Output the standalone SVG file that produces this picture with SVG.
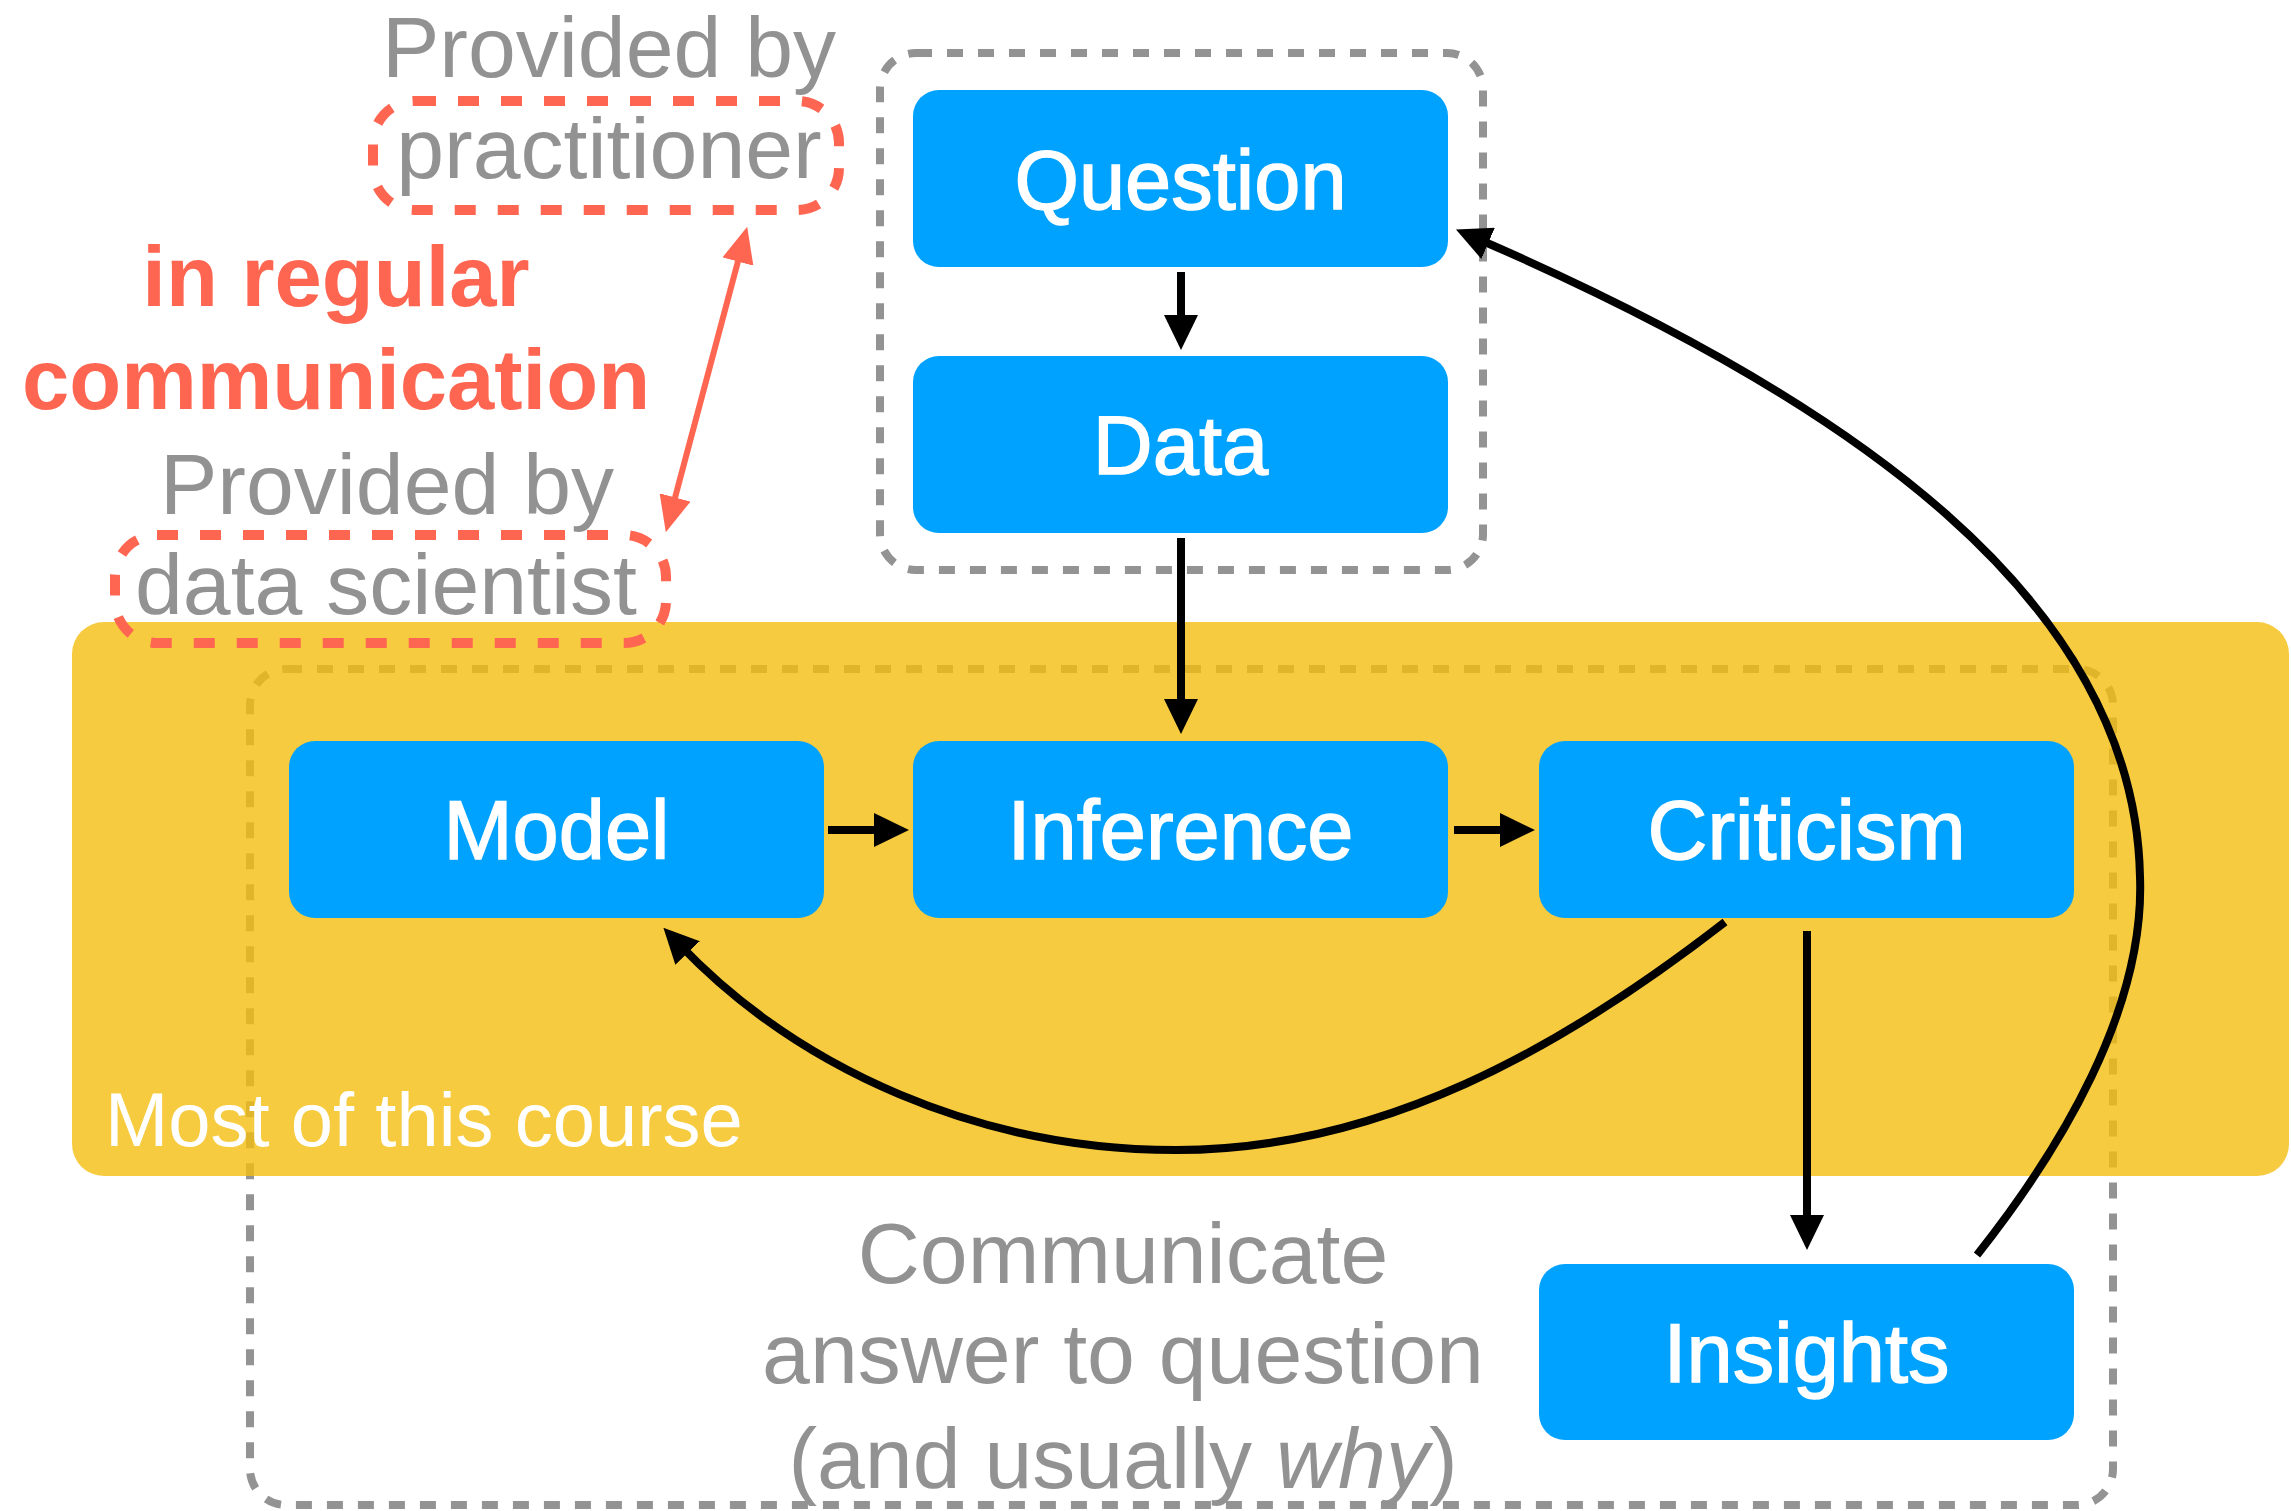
<svg xmlns="http://www.w3.org/2000/svg" width="2291" height="1511" viewBox="0 0 2291 1511">
  <style>
    .node rect { fill: #00A2FF; }
    .node text { font-family: "Liberation Sans", Arial, sans-serif; font-size: 83px; fill: #FFFFFF; stroke: #FFFFFF; stroke-width: 1.4; text-anchor: middle; }
    .grey { font-family: "Liberation Sans", Arial, sans-serif; font-size: 86px; fill: #929292; text-anchor: middle; }
    .red { font-family: "Liberation Sans", Arial, sans-serif; font-size: 85px; font-weight: bold; fill: #FF6651; text-anchor: middle; }
    .frame { fill: none; stroke: #939393; stroke-width: 8; stroke-dasharray: 16 15; }
    .redframe { fill: none; stroke: #FF6651; stroke-width: 10; stroke-dasharray: 21 22; }
    .edge { fill: none; stroke: #000000; stroke-width: 8; }
    .redge { fill: none; stroke: #FF6651; stroke-width: 6; }
  </style>
  <defs>
    <marker id="head" viewBox="0 0 35 34" refX="11" refY="17" markerWidth="35" markerHeight="34" markerUnits="userSpaceOnUse" orient="auto">
      <path d="M0,0 L35,17 L0,34 Z" fill="#000000"/>
    </marker>
    <marker id="redhead" viewBox="0 0 36 32" refX="12" refY="16" markerWidth="36" markerHeight="32" markerUnits="userSpaceOnUse" orient="auto-start-reverse">
      <path d="M0,0 L36,16 L0,32 Z" fill="#FF6651"/>
    </marker>
  </defs>

  <!-- outer dashed frame: model / inference / criticism / insights -->
  <rect class="frame" x="250" y="669" width="1863" height="836" rx="36"/>

  <!-- course band, slightly see-through so the frame shows under it -->
  <g id="course">
    <rect x="72" y="622" width="2217" height="554" rx="32" fill="#F5BE10" fill-opacity="0.8"/>
    <text x="105" y="1146" font-family="Liberation Sans, Arial, sans-serif" font-size="76" fill="#FFFFFF">Most of this course</text>
  </g>

  <!-- dashed frame: question / data -->
  <rect class="frame" x="880" y="53" width="603" height="517" rx="36"/>

  <!-- who provides what -->
  <g id="practitioner">
    <text class="grey" x="609" y="77">Provided by</text>
    <rect class="redframe" x="373" y="101" width="466" height="109" rx="42"/>
    <text class="grey" x="609" y="178">practitioner</text>
  </g>
  <g id="communication">
    <text class="red" x="336" y="306">in regular</text>
    <text class="red" x="336" y="409">communication</text>
  </g>
  <g id="scientist">
    <text class="grey" x="387" y="514">Provided by</text>
    <rect class="redframe" x="115" y="535" width="551" height="108" rx="42"/>
    <text class="grey" x="386" y="614">data scientist</text>
  </g>

  <g id="answer">
    <text class="grey" x="1123" y="1283">Communicate</text>
    <text class="grey" x="1123" y="1383">answer to question</text>
    <text class="grey" x="1123" y="1488">(and usually <tspan font-style="italic">why</tspan>)</text>
  </g>

  <!-- process steps -->
  <g id="question" class="node">
    <rect x="913" y="90" width="535" height="177" rx="26"/>
    <text x="1180.5" y="209">Question</text>
  </g>
  <g id="data" class="node">
    <rect x="913" y="356" width="535" height="177" rx="26"/>
    <text x="1180.5" y="474">Data</text>
  </g>
  <g id="model" class="node">
    <rect x="289" y="741" width="535" height="177" rx="26"/>
    <text x="556.5" y="859">Model</text>
  </g>
  <g id="inference" class="node">
    <rect x="913" y="741" width="535" height="177" rx="26"/>
    <text x="1180.5" y="859">Inference</text>
  </g>
  <g id="criticism" class="node">
    <rect x="1539" y="741" width="535" height="177" rx="26"/>
    <text x="1806.5" y="859">Criticism</text>
  </g>
  <g id="insights" class="node">
    <rect x="1539" y="1264" width="535" height="176" rx="26"/>
    <text x="1806.5" y="1382">Insights</text>
  </g>

  <!-- connectors -->
  <g id="edges">
    <path class="edge" d="M1181,272 L1181,326" marker-end="url(#head)"/>
    <path class="edge" d="M1181,538 L1181,710" marker-end="url(#head)"/>
    <path class="edge" d="M828,830 L885,830" marker-end="url(#head)"/>
    <path class="edge" d="M1454,830 L1511,830" marker-end="url(#head)"/>
    <path class="edge" d="M1807,931 L1807,1226" marker-end="url(#head)"/>
    <path class="edge" d="M1725,922 C1560,1050 1380,1150 1176,1150 C980,1150 800,1070 680,945" marker-end="url(#head)"/>
    <path class="edge" d="M1977,1255 C2060,1150 2145,1010 2140,877 C2135,600 1850,400 1478,239" marker-end="url(#head)"/>
    <path class="redge" d="M741,250 L672,509" marker-start="url(#redhead)" marker-end="url(#redhead)"/>
  </g>
</svg>
